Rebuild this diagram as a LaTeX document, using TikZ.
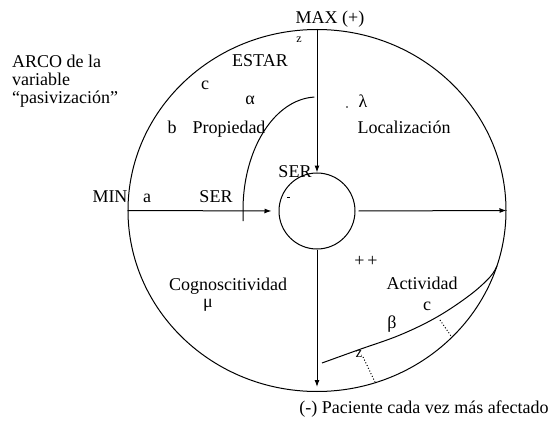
\documentclass[tikz,border=0pt]{standalone}
\usepackage{fontspec}
\setmainfont{Liberation Serif}
\usetikzlibrary{arrows.meta,shapes.geometric}
\begin{document}
\begin{tikzpicture}[x=1pt,y=-1pt,
  lbl/.style={font=\fontsize{18}{19}\selectfont, inner sep=0pt, anchor=base},
  small/.style={font=\fontsize{12}{13}\selectfont, inner sep=0pt, anchor=base},
  mid/.style={font=\fontsize{15}{16}\selectfont, inner sep=0pt, anchor=base},
  ln/.style={line width=1pt, draw=black},
  arr/.style={ln, -{Latex[length=7pt,width=5pt]}},
  dots/.style={line width=1pt, dotted}]
\fill[white] (0,0) rectangle (555,428);
\useasboundingbox (0,0) rectangle (555,428);
% circles
\node[ellipse, ln, minimum width=378pt, minimum height=362pt, inner sep=0pt] (outer) at (317,210.5) {};
\node[circle, ln, minimum size=76pt, inner sep=0pt] (inner) at (317,211) {};
% axes
\draw[arr, shorten >=7pt] (outer.west) -- (inner.west);
\draw[arr] ([xshift=3pt]inner.east) -- (outer.east);
\draw[arr] (outer.north) -- (inner.north);
\draw[arr] (inner.south) -- ([yshift=5pt]outer.south);
% alpha arc
\coordinate (a0) at (243,221);
\draw[ln] (a0) -- plot[domain=180:92, samples=40] ({317+74*cos(\x)},{210-113*sin(\x)});
% beta curve
\draw[ln] plot[smooth, tension=0.6] coordinates {(322,363) (358,350) (400,335) (437,317) (470,295) (490,277) (497,266)};
% dotted lines
\coordinate (d1a) at (363,357);
\coordinate (d1b) at (375,382);
\coordinate (d2a) at (440,320);
\coordinate (d2b) at (451,336);
\draw[dots] (d1a) -- (d1b);
\draw[dots] (d2a) -- (d2b);
% small marks
\coordinate (m1) at (287,197);
\coordinate (m2) at (290,197);
\draw[ln] (m1) -- (m2);
\coordinate (dotl) at (347,107);
\fill (dotl) circle (0.9pt);
% labels
\node[lbl, anchor=base west] (arco1) at (12,68) {ARCO de la};
\node[lbl, anchor=base west] (arco2) at (12,86) {variable};
\node[lbl, anchor=base west] (arco3) at (12,104) {“pasivización”};
\node[lbl] (max) at (330,24) {MAX (+)};
\node[small] (ztop) at (299,43) {z};
\node[lbl] (estar) at (260,67) {ESTAR};
\node[lbl] (c1) at (205,90) {c};
\node[lbl] (alpha) at (250,105) {α};
\node[lbl] (b) at (172,133) {b};
\node[lbl] (prop) at (229,133) {Propiedad};
\node[lbl] (lambda) at (363,108) {λ};
\node[lbl] (loc) at (404,133) {Localización};
\node[lbl] (min) at (110,202) {MIN};
\node[lbl] (a) at (147,202) {a};
\node[lbl] (ser1) at (216,202) {SER};
\node[lbl] (ser2) at (295,178) {SER};
\node[lbl] (pp) at (366,266) {+\,+};
\node[lbl] (act) at (422,289) {Actividad};
\node[lbl] (c2) at (427,310) {c};
\node[lbl] (beta) at (392,328) {β};
\node[mid] (zlow) at (359,357) {z};
\node[lbl] (cog) at (228,290) {Cognoscitividad};
\node[lbl] (mu) at (208,307) {μ};
\node[lbl] (cap) at (424,413) {(-) Paciente cada vez más afectado};
\end{tikzpicture}
\end{document}
